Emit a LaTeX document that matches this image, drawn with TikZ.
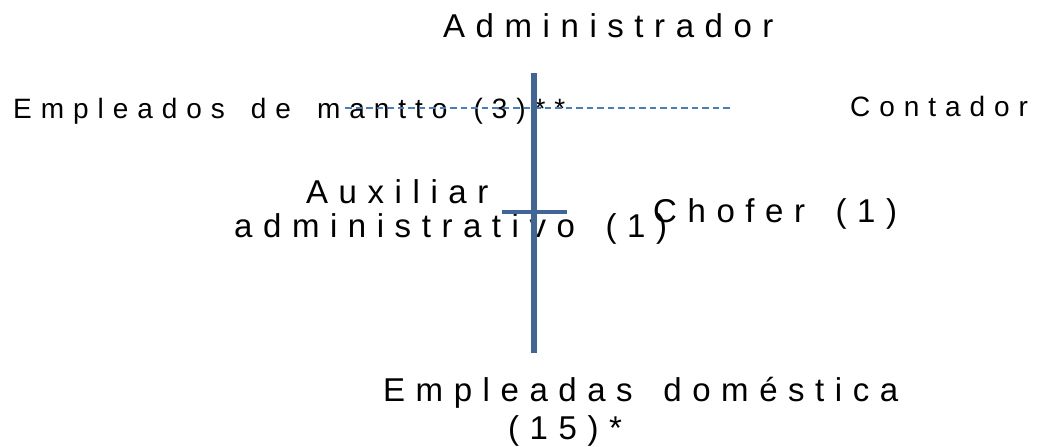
\documentclass[tikz,border=0pt]{standalone}
\usepackage{fontspec}
\setmainfont{Liberation Sans}
\newfontfamily\lsf[LetterSpace=32]{Liberation Sans}
\newcommand\wsp{\hspace{0.93em}}
\definecolor{barblue}{RGB}{64,101,152}
\definecolor{dashblue}{RGB}{74,126,187}
\tikzset{
  lbl/.style={inner sep=0pt, anchor=base west, text=black},
  big/.style={font=\fontsize{33}{36}\lsf},
  small/.style={font=\fontsize{28}{32}\lsf},
  bar/.style={draw=barblue, line width=6pt},
  crossbar/.style={draw=barblue, line width=4.5pt},
  dashline/.style={draw=dashblue, line width=1.5pt, dash pattern=on 6.5pt off 4pt}
}
\begin{document}
\begin{tikzpicture}[x=1pt,y=-1pt]
\useasboundingbox (0,0) rectangle (1039,447);
\node[lbl, big] (adm) at (443,37) {Administrador};
\node[lbl, small] (emp) at (13,118) {Empleados\wsp de\wsp mantto\wsp (3)**};
\node[lbl, small] (cont) at (850,116) {Contador};
\node[lbl, big] (aux1) at (306,203) {Auxiliar};
\node[lbl, big] (aux2) at (234,237) {administrativo\wsp (1)};
\node[lbl, big] (chof) at (653,222) {Chofer\wsp (1)};
\node[lbl, big] (dom1) at (383,401) {Empleadas\wsp doméstica};
\node[lbl, big] (dom2) at (508,439) {(15)*};
\coordinate (vtop) at (534,73);
\coordinate (vbot) at (534,353);
\coordinate (hl) at (502,212);
\coordinate (hr) at (567,212);
\coordinate (dl) at (345,108);
\coordinate (dr) at (733,108);
\draw[dashline] (dl) -- (dr);
\draw[bar] (vtop) -- (vbot);
\draw[crossbar] (hl) -- (hr);
\end{tikzpicture}
\end{document}
